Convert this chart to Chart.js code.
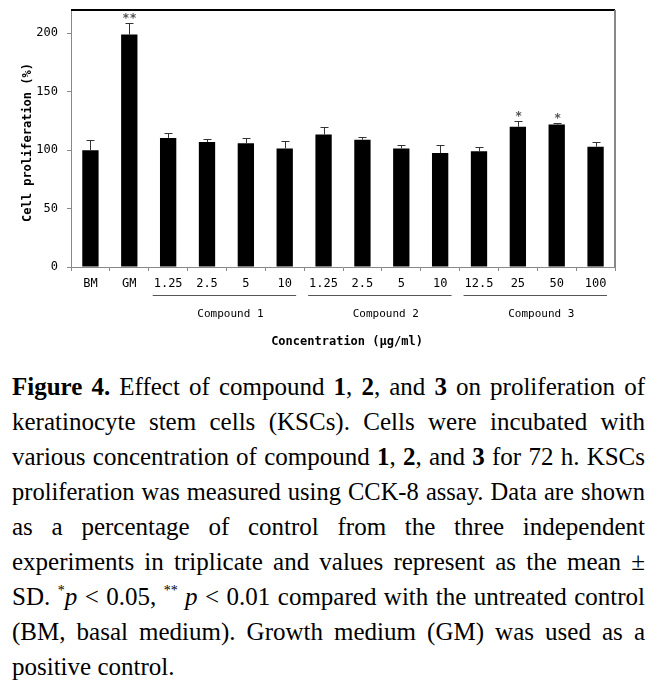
<!DOCTYPE html>
<html>
<head>
<meta charset="utf-8">
<script src="https://cdn.jsdelivr.net/npm/chart.js@4"></script>
<style>
  body { margin: 0; background: #fff; }
  #wrap { position: relative; width: 666px; height: 686px; overflow: hidden; }
  #chart { position: absolute; left: 0; top: 0; }
  #caption {
    position: absolute; left: 12px; top: 369px; width: 633px;
    font-family: "Liberation Serif", "Times New Roman", serif;
    font-size: 25px; line-height: 35px; color: #000;
  }
  #caption .ln { height: 35px; text-align: justify; text-align-last: justify; white-space: nowrap; }
  #caption .ln.last { text-align-last: left; }
  #caption sup { font-size: 14px; vertical-align: 10px; line-height: 0; }
</style>
</head>
<body>
<div id="wrap">
  <canvas id="chart" width="666" height="350"></canvas>
  <div id="caption">
    <div class="ln"><b>Figure 4.</b> Effect of compound <b>1</b>, <b>2</b>, and <b>3</b> on proliferation of</div>
    <div class="ln">keratinocyte stem cells (KSCs). Cells were incubated with</div>
    <div class="ln">various concentration of compound <b>1</b>, <b>2</b>, and <b>3</b> for 72 h. KSCs</div>
    <div class="ln">proliferation was measured using CCK-8 assay. Data are shown</div>
    <div class="ln">as a percentage of control from the three independent</div>
    <div class="ln">experiments in triplicate and values represent as the mean ±</div>
    <div class="ln">SD. <sup>*</sup><i>p</i> &lt; 0.05, <sup>**</sup> <i>p</i> &lt; 0.01 compared with the untreated control</div>
    <div class="ln">(BM, basal medium). Growth medium (GM) was used as a</div>
    <div class="ln last">positive control.</div>
  </div>
</div>
<script>
// --- données ---
const labels = ['BM', 'GM', '1.25', '2.5', '5', '10', '1.25', '2.5', '5', '10', '12.5', '25', '50', '100'];
const means = [100, 199, 110.5, 107, 106, 101.5, 113.5, 109, 101.5, 97.5, 99, 120, 122, 103];
const errors = [8.5, 10, 4, 2.5, 4.5, 6.5, 6, 2.5, 3, 7, 3.5, 5, 1.5, 4];
const marks = ['', '**', '', '', '', '', '', '', '', '', '', '*', '*', ''];
const groupNames = ['Compound 1', 'Compound 2', 'Compound 3'];
const groupFirst = [2, 6, 10];
const groupLast = [5, 9, 13];
const yTicks = [0, 50, 100, 150, 200];
const yMax = 220;

const MONO = '"DejaVu Sans Mono", "Liberation Mono", monospace';

// Si une ligne de la légende déborde, on resserre légèrement la police
document.querySelectorAll('#caption .ln').forEach(el => {
    let size = 25;
    while (el.scrollWidth > el.clientWidth && size > 18) {
        size -= 0.5;
        el.style.fontSize = size + 'px';
    }
});

// barres d'erreur, astérisques, cadre, groupes et titres
const extras = {
    id: 'extras',
    afterDatasetsDraw(chart) {
        const { ctx, chartArea, scales } = chart;
        const x = scales.x, y = scales.y;
        ctx.save();
        // barres d'erreur (vers le haut seulement)
        ctx.strokeStyle = '#333';
        ctx.lineWidth = 1;
        means.forEach((m, i) => {
            const px = Math.round(x.getPixelForValue(i)) + 0.5;
            const top = y.getPixelForValue(m);
            const err = Math.round(y.getPixelForValue(m + errors[i])) + 0.5;
            ctx.beginPath();
            ctx.moveTo(px, top);
            ctx.lineTo(px, err);
            ctx.moveTo(px - 4, err);
            ctx.lineTo(px + 4, err);
            ctx.stroke();
            if (marks[i]) {
                ctx.fillStyle = '#555';
                ctx.font = 'bold 12px ' + MONO;
                ctx.textAlign = 'center';
                ctx.textBaseline = 'alphabetic';
                ctx.fillText(marks[i], px, err - 2);
            }
        });
        // cadre haut (noir) et droit (gris)
        ctx.lineWidth = 2;
        ctx.strokeStyle = '#000';
        ctx.beginPath();
        ctx.moveTo(chartArea.left, chartArea.top);
        ctx.lineTo(chartArea.right, chartArea.top);
        ctx.stroke();
        ctx.strokeStyle = '#888';
        ctx.beginPath();
        ctx.moveTo(chartArea.right, chartArea.top);
        ctx.lineTo(chartArea.right, chartArea.bottom);
        ctx.stroke();
        ctx.restore();
    },
    afterDraw(chart) {
        const { ctx, chartArea, scales } = chart;
        const x = scales.x;
        const half = (x.getPixelForValue(1) - x.getPixelForValue(0)) / 2;
        ctx.save();
        // traits et noms des composés
        groupNames.forEach((name, g) => {
            const l = x.getPixelForValue(groupFirst[g]) - half;
            const r = x.getPixelForValue(groupLast[g]) + half;
            const ly = chartArea.bottom + 28.5;
            ctx.strokeStyle = '#555';
            ctx.lineWidth = 1;
            ctx.beginPath();
            ctx.moveTo(l + 4, ly);
            ctx.lineTo(r - 8, ly);
            ctx.stroke();
            ctx.fillStyle = '#000';
            ctx.font = '11px ' + MONO;
            ctx.textAlign = 'center';
            ctx.textBaseline = 'middle';
            ctx.fillText(name, (l + r) / 2 + 4, chartArea.bottom + 47);
        });
        // titre de l'axe des x
        ctx.font = 'bold 12px ' + MONO;
        ctx.fillText('Concentration (µg/ml)', (chartArea.left + chartArea.right) / 2 + 4, chartArea.bottom + 75);
        // titre de l'axe des y
        ctx.translate(28, (chartArea.top + chartArea.bottom) / 2 + 4);
        ctx.rotate(-Math.PI / 2);
        ctx.fillText('Cell proliferation (%)', 0, 0);
        ctx.restore();
    }
};

new Chart(document.getElementById('chart'), {
    type: 'bar',
    data: {
        labels: labels,
        datasets: [{
            data: means,
            backgroundColor: '#000',
            borderWidth: 0,
            categoryPercentage: 1,
            barPercentage: 0.42
        }]
    },
    options: {
        responsive: false,
        animation: false,
        devicePixelRatio: 1,
        layout: { padding: { top: 10, right: 51, left: 0, bottom: 0 } },
        plugins: { legend: { display: false }, tooltip: { enabled: false } },
        scales: {
            x: {
                grid: { display: true, offset: true, drawOnChartArea: false, tickLength: 4, color: '#888' },
                border: { color: '#888', width: 1 },
                ticks: { color: '#000', font: { family: MONO, size: 12 }, padding: 6, maxRotation: 0, autoSkip: false },
                afterFit: s => { s.height = 83; s.paddingLeft = 0; s.paddingRight = 0; }
            },
            y: {
                min: 0,
                max: yMax,
                grid: { display: true, drawOnChartArea: false, tickLength: 4, color: '#888' },
                border: { color: '#888', width: 1 },
                ticks: { color: '#000', font: { family: MONO, size: 12 }, padding: 9 },
                afterBuildTicks: s => { s.ticks = yTicks.map(v => ({ value: v })); },
                afterFit: s => { s.width = 71; s.paddingTop = 0; s.paddingBottom = 0; }
            }
        }
    },
    plugins: [extras]
});
</script>
</body>
</html>
